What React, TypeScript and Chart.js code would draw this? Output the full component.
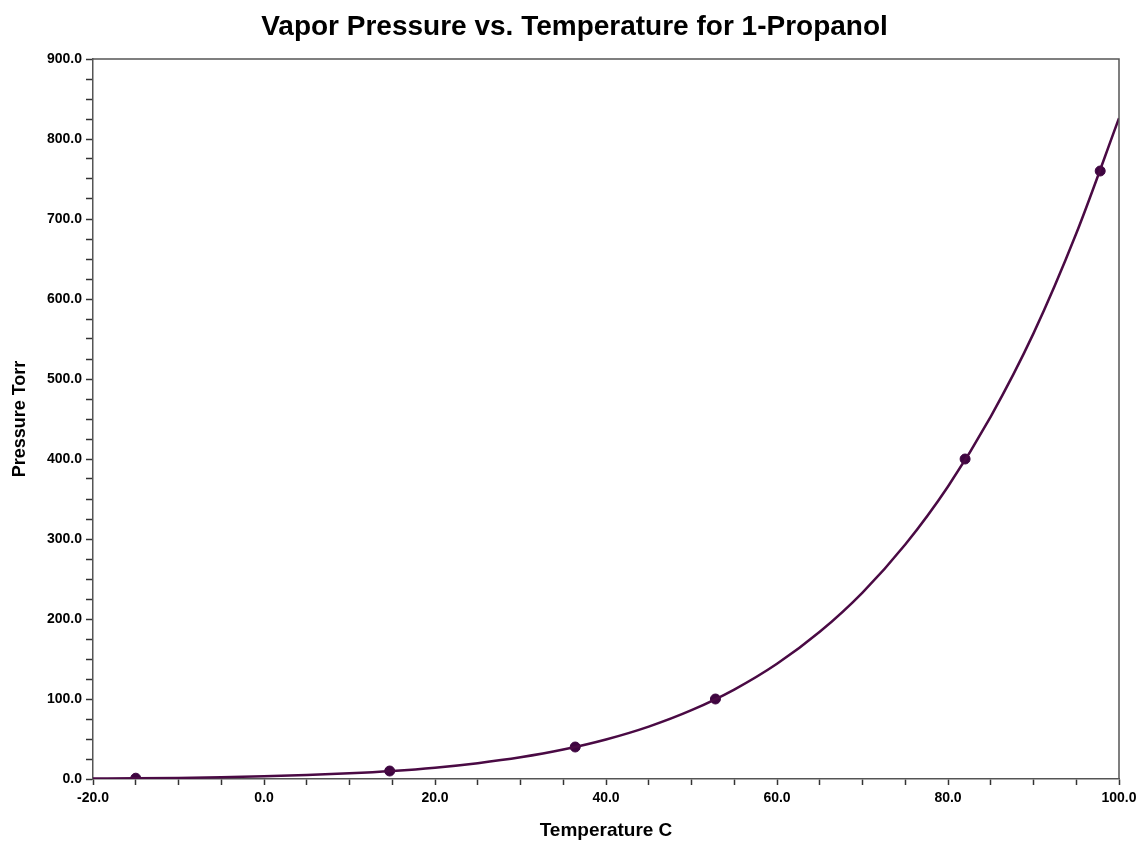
import React, { useEffect, useRef } from "react";
import { Chart, registerables } from "chart.js";

Chart.register(...registerables);

const curveTemps = [-20, -15, -10, -5, 0, 5, 10, 15, 20, 25, 30, 35, 40, 45, 50, 55, 60, 65, 70, 75, 80, 85, 90, 95, 100];
const curvePressures = [0.6, 0.9, 1.4, 2.2, 3.3, 4.9, 7.1, 10.1, 14.2, 19.8, 27.1, 36.8, 49.4, 65.5, 86.0, 111.8, 144.0, 184.0, 233.1, 293.1, 365.7, 453.1, 557.0, 681.8, 826.0];

const pointTemps = [-15.0, 14.7, 36.4, 52.8, 82.0, 97.8];
const pointPressures = [1, 10, 40, 100, 400, 760];

const titleText = "Vapor Pressure vs. Temperature for 1-Propanol";
const xTitle = "Temperature C";
const yTitle = "Pressure Torr";

const LINE = "#4a0a44";
const AXIS = "#555555";
const FONT = "Liberation Sans, Arial, sans-serif";

const framePlugin = {
  id: "frameBox",
  afterDatasetsDraw(chart: any) {
    const { ctx, chartArea } = chart;
    ctx.save();
    ctx.strokeStyle = AXIS;
    ctx.lineWidth = 1.5;
    ctx.beginPath();
    ctx.moveTo(chartArea.left, chartArea.top);
    ctx.lineTo(chartArea.right, chartArea.top);
    ctx.lineTo(chartArea.right, chartArea.bottom);
    ctx.stroke();
    ctx.restore();
  },
};

const titlePlugin = {
  id: "centerTitle",
  afterDraw(chart: any) {
    const { ctx } = chart;
    ctx.save();
    ctx.fillStyle = "#000";
    ctx.font = `bold 28px ${FONT}`;
    ctx.textAlign = "center";
    ctx.textBaseline = "alphabetic";
    ctx.fillText(titleText, 574.5, 35);
    ctx.restore();
  },
};

export default function App() {
  const ref = useRef<HTMLCanvasElement | null>(null);
  useEffect(() => {
    document.body.style.margin = "0";
    if (!ref.current) return;
    const chart = new Chart(ref.current, {
      type: "scatter",
      data: {
        datasets: [
          {
            type: "line",
            data: curveTemps.map((t, i) => ({ x: t, y: curvePressures[i] })),
            borderColor: LINE,
            borderWidth: 2.5,
            pointRadius: 0,
            cubicInterpolationMode: "monotone",
            fill: false,
          } as any,
          {
            data: pointTemps.map((t, i) => ({ x: t, y: pointPressures[i] })),
            backgroundColor: "#3e0540",
            borderColor: "#3e0540",
            pointRadius: 5,
          },
        ],
      },
      options: {
        animation: false,
        responsive: false,
        maintainAspectRatio: false,
        layout: { padding: { left: 0, right: 19, top: 59, bottom: 0 } },
        plugins: {
          legend: { display: false },
          tooltip: { enabled: false },
          title: { display: false },
        },
        scales: {
          x: {
            type: "linear",
            min: -20,
            max: 100,
            afterFit: (s: any) => {
              s.height = 62;
              s.paddingLeft = 0;
              s.paddingRight = 0;
            },
            ticks: {
              stepSize: 5,
              autoSkip: false,
              maxRotation: 0,
              padding: 5,
              color: "#000",
              font: { family: FONT, size: 14, weight: "bold" },
              callback: (v: any) => (Math.round(v) % 20 === 0 ? Number(v).toFixed(1) : ""),
            },
            grid: { drawOnChartArea: false, tickLength: 6, tickColor: "#333", tickWidth: 1.5 },
            border: { color: AXIS, width: 1.5 },
            title: {
              display: true,
              text: xTitle,
              color: "#000",
              font: { family: FONT, size: 19, weight: "bold" },
              padding: { top: 0, bottom: -1 },
            },
          },
          y: {
            type: "linear",
            min: 0,
            max: 900,
            afterFit: (s: any) => {
              s.width = 93;
              s.paddingTop = 0;
              s.paddingBottom = 0;
            },
            ticks: {
              stepSize: 25,
              autoSkip: false,
              padding: 4,
              color: "#000",
              font: { family: FONT, size: 14, weight: "bold" },
              callback: (v: any) => (Math.round(v) % 100 === 0 ? Number(v).toFixed(1) : ""),
            },
            grid: { drawOnChartArea: false, tickLength: 7, tickColor: "#333", tickWidth: 1.5 },
            border: { color: AXIS, width: 1.5 },
            title: {
              display: true,
              text: yTitle,
              color: "#000",
              font: { family: FONT, size: 18, weight: "bold" },
              padding: { top: 9, bottom: 0 },
            },
          },
        },
      },
      plugins: [framePlugin, titlePlugin],
    });
    return () => chart.destroy();
  }, []);
  return (
    <div style={{ width: 1138, height: 841, background: "#fff" }}>
      <canvas ref={ref} width={1138} height={841} style={{ display: "block" }} />
    </div>
  );
}
